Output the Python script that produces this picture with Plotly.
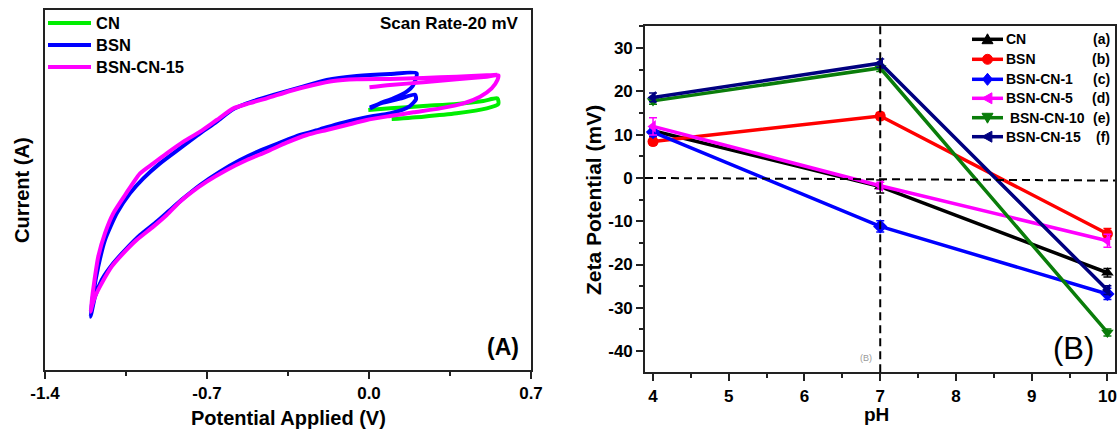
import plotly.graph_objects as go

# ---------------- Panel A : cyclic voltammetry (potential V, current arb. mA) -------------
cn_v = [-0.003, 0.091, 0.235, 0.379, 0.494, 0.555, 0.559, 0.509, 0.379, 0.235, 0.098]
cn_i = [-1.200, -1.167, -1.120, -1.080, -1.020, -0.967, -1.080, -1.167, -1.267, -1.333, -1.380]

bsn_v = [0.004, 0.062, 0.134, 0.199, 0.203, 0.177, 0.134, 0.077, 0.019, -0.039,
         -0.125, -0.212, -0.298, -0.384, -0.471, -0.557, -0.644, -0.730, -0.802, -0.860,
         -0.917, -0.989, -1.047, -1.105, -1.155, -1.184, -1.198, -1.203,
         -1.191, -1.170, -1.141, -1.090, -1.033, -0.975, -0.903, -0.817, -0.730, -0.658,
         -0.593, -0.528, -0.413, -0.298, -0.183, -0.053, 0.091, 0.206,
         0.189, 0.163, 0.105, 0.048, 0.004]
bsn_i = [-1.147, -1.053, -0.973, -0.893, -0.987, -1.120, -1.213, -1.280, -1.320, -1.373,
         -1.467, -1.587, -1.700, -1.853, -2.013, -2.200, -2.433, -2.700, -2.967, -3.200,
         -3.433, -3.700, -3.967, -4.267, -4.600, -4.933, -5.233, -5.333,
         -4.867, -4.333, -3.800, -3.267, -2.867, -2.567, -2.267, -1.967, -1.667, -1.433,
         -1.200, -1.067, -0.900, -0.747, -0.600, -0.520, -0.480, -0.467,
         -0.720, -0.833, -0.967, -1.067, -1.167]

bsncn15_v = [0.002, 0.091, 0.235, 0.379, 0.509, 0.559,
             0.555, 0.530, 0.480, 0.408, 0.307, 0.192, 0.091, -0.010, -0.096, -0.183,
             -0.269, -0.356, -0.442, -0.528, -0.615, -0.701, -0.773, -0.817, -0.874,
             -0.932, -1.004, -1.062, -1.112, -1.155, -1.184, -1.198, -1.203,
             -1.194, -1.184, -1.170, -1.141, -1.105, -1.054, -0.989, -0.932, -0.874,
             -0.802, -0.730, -0.658, -0.586, -0.528, -0.442, -0.341, -0.240, -0.154,
             -0.053, 0.091, 0.235, 0.379, 0.509, 0.555]
bsncn15_i = [-0.747, -0.700, -0.647, -0.587, -0.533, -0.507,
             -0.600, -0.767, -0.933, -1.067, -1.167, -1.247, -1.320, -1.400, -1.500, -1.600,
             -1.700, -1.853, -2.033, -2.200, -2.400, -2.633, -2.867, -3.033, -3.300,
             -3.533, -3.800, -4.067, -4.333, -4.667, -4.933, -5.133, -5.233,
             -4.867, -4.533, -4.133, -3.667, -3.267, -2.900, -2.467, -2.267, -2.067,
             -1.833, -1.633, -1.400, -1.167, -1.080, -0.967, -0.820, -0.700, -0.620,
             -0.587, -0.580, -0.560, -0.533, -0.507, -0.493]

cv_names = ["CN", "BSN", "BSN-CN-15"]
cv_colors = ["#00EE00", "#0000FF", "#FF00FF"]
x_ticks_a = [-1.4, -0.7, 0.0, 0.7]
x_ticktext_a = ["-1.4", "-0.7", "0.0", "0.7"]

# ---------------- Panel B : zeta potential ----------------
ph = [4, 7, 10]
zeta_names = ["CN", "BSN", "BSN-CN-1", "BSN-CN-5", "\u00a0BSN-CN-10", "BSN-CN-15"]
zeta_tags = ["(a)", "(b)", "(c)", "(d)", "(e)", "(f)"]
zeta_cn = [10.9, -2.0, -21.9]
zeta_bsn = [8.4, 14.3, -12.9]
zeta_bsncn1 = [10.6, -11.2, -26.8]
zeta_bsncn5 = [11.9, -1.8, -14.5]
zeta_bsncn10 = [17.8, 25.4, -35.7]
zeta_bsncn15 = [18.6, 26.5, -25.9]
err_cn = [0.8, 1.5, 1.0]
err_bsn = [0.8, 0.8, 1.2]
err_bsncn1 = [1.0, 1.3, 1.3]
err_bsncn5 = [2.0, 0.8, 1.5]
err_bsncn10 = [0.8, 0.8, 0.8]
err_bsncn15 = [1.0, 1.0, 1.0]
zeta_colors = ["#000000", "#FF0000", "#0000FF", "#FF00FF", "#0A7D0A", "#000080"]
zeta_symbols = ["triangle-up", "circle", "diamond", "triangle-left", "triangle-down", "triangle-left"]
y_ticks_b = [30, 20, 10, 0, -10, -20, -30, -40]
y_ticktext_b = ["30", "20", "10", "0", "-10", "-20", "-30", "-40"]
x_ticks_b = [4, 5, 6, 7, 8, 9, 10]

W, H = 1118, 433
FONT = "Liberation Sans, Arial, sans-serif"


def px(x):
    return x / W


def py(y):
    return 1 - y / H


fig = go.Figure()

for v, i, name, col in zip([cn_v, bsn_v, bsncn15_v], [cn_i, bsn_i, bsncn15_i], cv_names, cv_colors):
    fig.add_trace(go.Scatter(x=v, y=i, mode="lines", name=name, showlegend=False,
                             line=dict(color=col, width=4, shape="spline", smoothing=0.6),
                             xaxis="x", yaxis="y"))

zeta_vals = [zeta_cn, zeta_bsn, zeta_bsncn1, zeta_bsncn5, zeta_bsncn10, zeta_bsncn15]
zeta_errs = [err_cn, err_bsn, err_bsncn1, err_bsncn5, err_bsncn10, err_bsncn15]
for vals, errs, name, col, sym in zip(zeta_vals, zeta_errs, zeta_names, zeta_colors, zeta_symbols):
    fig.add_trace(go.Scatter(x=ph, y=vals, mode="lines+markers", name=name, showlegend=False,
                             line=dict(color=col, width=3.5),
                             marker=dict(symbol=sym, size=11, color=col),
                             error_y=dict(type="data", array=errs, color=col, thickness=1.5, width=4),
                             xaxis="x2", yaxis="y2"))

axis_common = dict(showline=True, mirror=True, linecolor="#222222", linewidth=1.6,
                   showgrid=False, zeroline=False, automargin=False)

fig.update_layout(
    width=W, height=H, autosize=False,
    margin=dict(l=0, r=0, t=0, b=0, pad=0, autoexpand=False),
    paper_bgcolor="white", plot_bgcolor="white",
    font=dict(family=FONT, color="black"),
    showlegend=False,
    xaxis=dict(domain=[px(45), px(531)], anchor="y", range=[-1.4, 0.7],
               tickvals=x_ticks_a, ticktext=x_ticktext_a,
               ticks="outside", ticklen=7, tickwidth=1.6, tickcolor="#222222",
               tickfont=dict(size=17, weight="bold", family=FONT),
               minor=dict(dtick=0.35, tick0=-1.4, ticks="outside", ticklen=4, tickwidth=1.5, tickcolor="#222222"),
               **axis_common),
    yaxis=dict(domain=[py(370), py(10)], anchor="x", range=[-6.4, 0.8],
               showticklabels=False, ticks="", **axis_common),
    xaxis2=dict(domain=[px(645), px(1115)], anchor="y2", range=[3.894, 10.10],
                tickvals=x_ticks_b, ticktext=[str(t) for t in x_ticks_b],
                ticks="outside", ticklen=7, tickwidth=1.6, tickcolor="#222222",
                tickfont=dict(size=17, weight="bold", family=FONT),
                minor=dict(dtick=0.5, tick0=4, ticks="outside", ticklen=4, tickwidth=1.5, tickcolor="#222222"),
                **axis_common),
    yaxis2=dict(domain=[py(372.3), py(26)], anchor="x2", range=[-44.9, 35.1],
                tickvals=y_ticks_b, ticktext=y_ticktext_b,
                ticks="outside", ticklen=7, tickwidth=1.6, tickcolor="#222222",
                tickfont=dict(size=17, weight="bold", family=FONT),
                minor=dict(dtick=5, tick0=0, ticks="outside", ticklen=4, tickwidth=1.5, tickcolor="#222222"),
                **axis_common),
)

# dashed reference lines on panel B
fig.add_shape(type="line", xref="x2", yref="y2 domain", x0=7, x1=7, y0=0, y1=1,
              line=dict(color="black", width=2, dash="8px,5px"))
fig.add_shape(type="line", xref="x2 domain", yref="y2", x0=0, x1=1, y0=0, y1=-0.6,
              line=dict(color="black", width=2, dash="8px,5px"))

# custom legend for panel A
legend_rows_a = [23, 45, 67]
for name, col, yrow in zip(cv_names, cv_colors, legend_rows_a):
    fig.add_shape(type="line", xref="paper", yref="paper", x0=px(48), x1=px(91),
                  y0=py(yrow), y1=py(yrow), line=dict(color=col, width=4))
    fig.add_annotation(text=name, xref="paper", yref="paper", x=px(94), y=py(yrow),
                       xanchor="left", yanchor="middle", showarrow=False,
                       font=dict(size=16.5, weight="bold", family=FONT))


# custom legend for panel B (line + marker glyph drawn as paper-space shapes)
def marker_path(sym, cx, cy, r=5.5):
    if sym == "triangle-up":
        pts = [(cx, cy - r), (cx + r, cy + r * 0.8), (cx - r, cy + r * 0.8)]
    elif sym == "triangle-down":
        pts = [(cx, cy + r), (cx + r, cy - r * 0.8), (cx - r, cy - r * 0.8)]
    elif sym == "triangle-left":
        pts = [(cx - r, cy), (cx + r * 0.8, cy - r), (cx + r * 0.8, cy + r)]
    elif sym == "diamond":
        pts = [(cx, cy - r * 1.1), (cx + r * 0.9, cy), (cx, cy + r * 1.1), (cx - r * 0.9, cy)]
    else:
        return None
    return "M " + " L ".join("%.5f,%.5f" % (px(x), py(y)) for x, y in pts) + " Z"


leg_rows_b = [39.3, 59.3, 79.3, 98.3, 117.7, 136.7]
for name, tag, col, sym, yrow in zip(zeta_names, zeta_tags, zeta_colors, zeta_symbols, leg_rows_b):
    fig.add_shape(type="line", xref="paper", yref="paper", x0=px(972), x1=px(1003),
                  y0=py(yrow), y1=py(yrow), line=dict(color=col, width=3.5))
    path = marker_path(sym, 987.5, yrow)
    if path is None:
        fig.add_shape(type="circle", xref="paper", yref="paper",
                      x0=px(982.5), x1=px(992.5), y0=py(yrow + 5), y1=py(yrow - 5),
                      fillcolor=col, line=dict(color=col, width=1))
    else:
        fig.add_shape(type="path", xref="paper", yref="paper", path=path,
                      fillcolor=col, line=dict(color=col, width=1))
    fig.add_annotation(text=name, xref="paper", yref="paper", x=px(1004), y=py(yrow),
                       xanchor="left", yanchor="middle", showarrow=False,
                       font=dict(size=14, weight="bold", family=FONT))
    fig.add_annotation(text=tag, xref="paper", yref="paper", x=px(1112), y=py(yrow),
                       xanchor="right", yanchor="middle", showarrow=False,
                       font=dict(size=14, weight="bold", family=FONT))

texts = [
    dict(text="Scan Rate-20 mV", x=px(521), y=py(24), xanchor="right", size=17, weight="bold"),
    dict(text="(A)", x=px(521), y=py(347), xanchor="right", size=23, weight="bold"),
    dict(text="(B)", x=px(1073), y=py(348), xanchor="center", size=31, weight="normal"),
    dict(text="Potential Applied (V)", x=px(288), y=py(418), xanchor="center", size=20, weight="bold"),
    dict(text="pH", x=px(876), y=py(414), xanchor="center", size=19, weight="bold"),
]
for t in texts:
    fig.add_annotation(text=t["text"], xref="paper", yref="paper", x=t["x"], y=t["y"],
                       xanchor=t["xanchor"], yanchor="middle", showarrow=False,
                       font=dict(size=t["size"], weight=t["weight"], family=FONT))

fig.add_annotation(text="Current (A)", xref="paper", yref="paper", x=px(22), y=py(190),
                   textangle=-90, showarrow=False, xanchor="center", yanchor="middle",
                   font=dict(size=20, weight="bold", family=FONT))
fig.add_annotation(text="Zeta Potential (mV)", xref="paper", yref="paper", x=px(594), y=py(200),
                   textangle=-90, showarrow=False, xanchor="center", yanchor="middle",
                   font=dict(size=21, weight="bold", family=FONT))
fig.add_annotation(text="(B)", xref="paper", yref="paper", x=px(866), y=py(358),
                   showarrow=False, xanchor="center", yanchor="middle",
                   font=dict(size=9, color="#9a9a9a", family=FONT))

fig.write_html("out.html")
